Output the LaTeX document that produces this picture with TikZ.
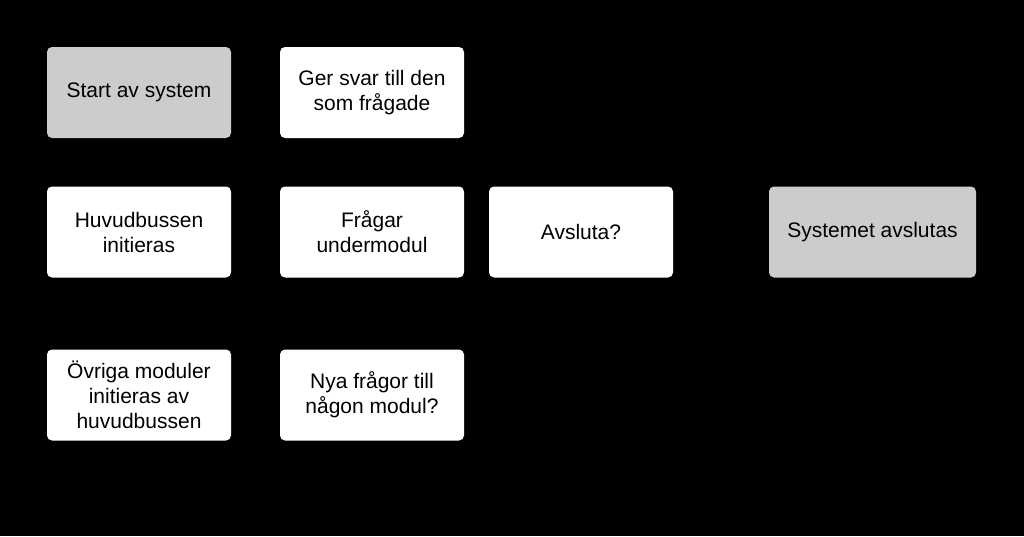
\documentclass[tikz,border=0pt]{standalone}
\usepackage{fontspec}
\setmainfont{Liberation Sans}
\definecolor{boxgray}{HTML}{CCCCCC}
\tikzset{
  box/.style={draw=none, rounded corners=5pt, minimum width=184pt, minimum height=91pt,
    align=center, inner sep=0pt, text=black,
    font=\fontsize{21pt}{25pt}\selectfont},
  wbox/.style={box, fill=white},
  gbox/.style={box, fill=boxgray}
}
\begin{document}
\begin{tikzpicture}[x=1pt,y=-1pt]
\fill[black] (0,0) rectangle (1024,536);
\useasboundingbox (0,0) rectangle (1024,536);
\node[gbox] (start) at (139,92.5) {Start av system};
\node[wbox] (svar) at (372,92.5) {Ger svar till den\\som frågade};
\node[wbox] (huvud) at (139,232) {Huvudbussen\\initieras};
\node[wbox] (fragar) at (372,232) {Frågar\\undermodul};
\node[wbox] (avsluta) at (581,232) {Avsluta?};
\node[gbox, minimum width=207pt] (slut) at (872.5,232) {Systemet avslutas};
\node[wbox] (ovriga) at (139,395) {Övriga moduler\\initieras av\\huvudbussen};
\node[wbox] (nya) at (372,395) {Nya frågor till\\någon modul?};
\end{tikzpicture}
\end{document}
